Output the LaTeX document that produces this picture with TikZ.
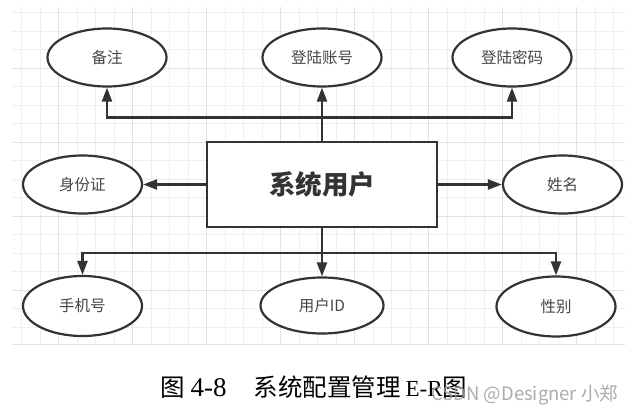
\documentclass[tikz,border=0pt]{standalone}
\usepackage{fontspec}
\newfontfamily\cjk{Noto Sans CJK SC}
\newfontfamily\capserif{Liberation Serif}
\usetikzlibrary{arrows.meta,shapes.geometric}
\definecolor{ln}{HTML}{333333}
\definecolor{tx}{HTML}{454545}
\definecolor{gmin}{HTML}{EFEFEF}
\definecolor{gmaj}{HTML}{E2E2E2}
\definecolor{wm}{HTML}{9C9C9C}
\tikzset{
  attr/.style={ellipse, draw=ln, line width=2.2pt, fill=white, inner sep=0pt,
    minimum width=119pt, minimum height=58pt, text=tx,
    font=\cjk\fontsize{15.5}{18}\selectfont},
  entity/.style={rectangle, draw=ln, line width=2.8pt, fill=white, inner sep=0pt,
    minimum width=230pt, minimum height=85pt, text=ln,
    font=\cjk\bfseries\fontsize{26.5}{30}\selectfont},
  conn/.style={draw=ln, line width=2.2pt, -{Triangle[length=14pt,width=10pt]}},
  gridminor/.style={draw=gmin, line width=0.9pt},
  gridmajor/.style={draw=gmaj, line width=1pt}
}
\begin{document}
\begin{tikzpicture}[x=1pt,y=-1pt]
\useasboundingbox (0,0) rectangle (641,415);
% grid background
\begin{scope}
\clip (12,7) rectangle (625,344.5);
\foreach \k in {1,...,33}{
  \pgfmathsetmacro{\xx}{3.2+18.5*\k}
  \draw[gridminor] (\xx,7) -- (\xx,345);
}
\foreach \k in {0,...,18}{
  \pgfmathsetmacro{\yy}{12.7+18.5*\k}
  \draw[gridminor] (12,\yy) -- (625,\yy);
}
\foreach \k in {0,...,7}{
  \pgfmathsetmacro{\xx}{58.7+74*\k}
  \draw[gridmajor] (\xx,7) -- (\xx,345);
}
\foreach \k in {0,...,3}{
  \pgfmathsetmacro{\yy}{68.2+74*\k}
  \draw[gridmajor] (12,\yy) -- (625,\yy);
}
\draw[gridmajor] (12,344) -- (625,344);
\end{scope}
% entity
\node[entity] (box) at (322,184.5) {系统用户};
% attributes
\node[attr] (bz) at (107,57.5) {备注};
\node[attr] (zh) at (322,57.5) {登陆账号};
\node[attr] (mm) at (512,57.5) {登陆密码};
\node[attr] (sfz) at (82.5,184.5) {身份证};
\node[attr] (xm) at (562.5,184.5) {姓名};
\node[attr, minimum height=60pt] (sj) at (82.5,306) {手机号};
\node[attr, minimum width=123pt, minimum height=56pt] (uid) at (322,305.5) {用户ID};
\node[attr, minimum height=60pt] (xb) at (556,306.5) {性别};
% connectors
\coordinate (tb) at (322,117.5);
\coordinate (bb) at (322,253);
\draw[conn] (box.north) -- (zh.south);
\draw[conn] (tb) -| (bz.south);
\draw[conn] (tb) -| (mm.south);
\draw[conn] (box.west) -- (sfz.east);
\draw[conn] (box.east) -- (xm.west);
\draw[conn] (box.south) -- (uid.north);
\draw[conn] (bb) -| (sj.north);
\draw[conn] (bb) -| (xb.north);
% caption
\node[anchor=west, inner sep=0pt, text=black] (cap) at (160,387.5)
  {{\cjk\fontsize{24.5}{28}\selectfont 图}\hspace{6pt}{\capserif\fontsize{27}{28}\selectfont 4-8}\hspace{27pt}{\cjk\fontsize{24.5}{28}\selectfont 系统配置管理}\hspace{5pt}{\capserif\fontsize{23}{28}\selectfont E-R}{\cjk\fontsize{24.5}{28}\selectfont 图}};
% watermark
\node[anchor=west, inner sep=0pt, text=wm, opacity=0.85] (wmk) at (431,395)
  {\cjk\fontsize{18.5}{22}\selectfont CSDN @Designer 小郑};
\end{tikzpicture}
\end{document}
